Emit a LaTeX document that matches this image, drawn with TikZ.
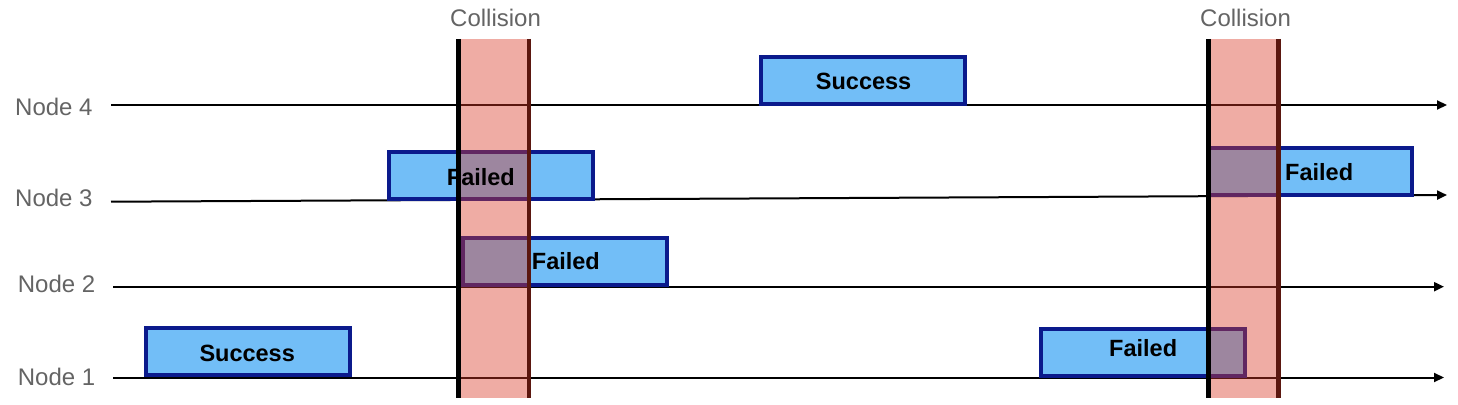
\documentclass[tikz,border=0pt]{standalone}
\usepackage{fontspec}
\setmainfont{Liberation Sans}
\usetikzlibrary{arrows.meta}
\definecolor{boxfill}{RGB}{114,190,247}
\definecolor{boxdraw}{RGB}{11,26,140}
\definecolor{bandred}{RGB}{217,57,38}
\definecolor{lblgray}{RGB}{100,100,100}
\begin{document}
\begin{tikzpicture}[x=1pt,y=-1pt,
  timeline/.style={line width=2pt, -{Triangle[length=10pt,width=9pt]}},
  box/.style={draw=boxdraw, fill=boxfill, line width=4pt, inner sep=0pt,
              minimum width=204pt, minimum height=47pt},
  boxtext/.style={font=\fontsize{23.5}{28}\selectfont\bfseries, anchor=base west, inner sep=0pt},
  lbl/.style={text=lblgray, font=\fontsize{24}{28}\selectfont, anchor=base west, inner sep=0pt},
  bandfill/.style={fill=bandred, fill opacity=0.42},
  bandedge/.style={draw=black, line width=4.5pt},
]
\useasboundingbox (0,0) rectangle (1458,404);

% node labels
\node[lbl] (n4) at (15,115) {Node 4};
\node[lbl] (n3) at (15,206.7) {Node 3};
\node[lbl] (n2) at (17.7,292.7) {Node 2};
\node[lbl] (n1) at (17.7,385) {Node 1};

% timelines
\coordinate (n4s) at (111,105);    \coordinate (n4e) at (1447,105);
\coordinate (n3s) at (111,201.7);  \coordinate (n3e) at (1447,195);
\coordinate (n2s) at (113,286.7);  \coordinate (n2e) at (1444,286.7);
\coordinate (n1s) at (113,377.5);  \coordinate (n1e) at (1444,377.5);
\draw[timeline] (n4s) -- (n4e);
\draw[timeline] (n3s) -- (n3e);
\draw[timeline] (n2s) -- (n2e);
\draw[timeline] (n1s) -- (n1e);

% boxes
\node[box] (s1) at (247.5,351.3) {};
\node[box] (s4) at (863.3,80.3) {};
\node[box] (f3a) at (490.5,175.3) {};
\node[box] (f2) at (564.8,261.2) {};
\node[box] (f3b) at (1309.8,171.2) {};
\node[box] (f1) at (1143.2,352.2) {};

% collision bands
\coordinate (c1lt) at (458.5,39);  \coordinate (c1lb) at (458.5,397.7);
\coordinate (c1rt) at (529,39);    \coordinate (c1rb) at (529,397.7);
\coordinate (c2lt) at (1208,39);   \coordinate (c2lb) at (1208,397.7);
\coordinate (c2rt) at (1278.5,39); \coordinate (c2rb) at (1278.5,397.7);

\draw[bandedge] (c1rt) -- (c1rb);
\draw[bandedge] (c2rt) -- (c2rb);
\fill[bandfill] (456,39) rectangle (531.3,397.7);
\fill[bandfill] (1205.7,39) rectangle (1280.8,397.7);
\draw[bandedge, line width=5pt] (c1lt) -- (c1lb);
\draw[bandedge, line width=5pt] (c2lt) -- (c2lb);

% box texts (on top of the bands)
\node[boxtext] (ts1) at (199.3,361.7) {Success};
\node[boxtext] (ts4) at (815.7,89.3) {Success};
\node[boxtext] (tf3a) at (446.7,185) {Failed};
\node[boxtext] (tf2) at (531.7,269.3) {Failed};
\node[boxtext] (tf3b) at (1285,180) {Failed};
\node[boxtext] (tf1) at (1109,356.7) {Failed};

\node[lbl] (col1) at (450,26.7) {Collision};
\node[lbl] (col2) at (1200,26.7) {Collision};
\end{tikzpicture}
\end{document}
